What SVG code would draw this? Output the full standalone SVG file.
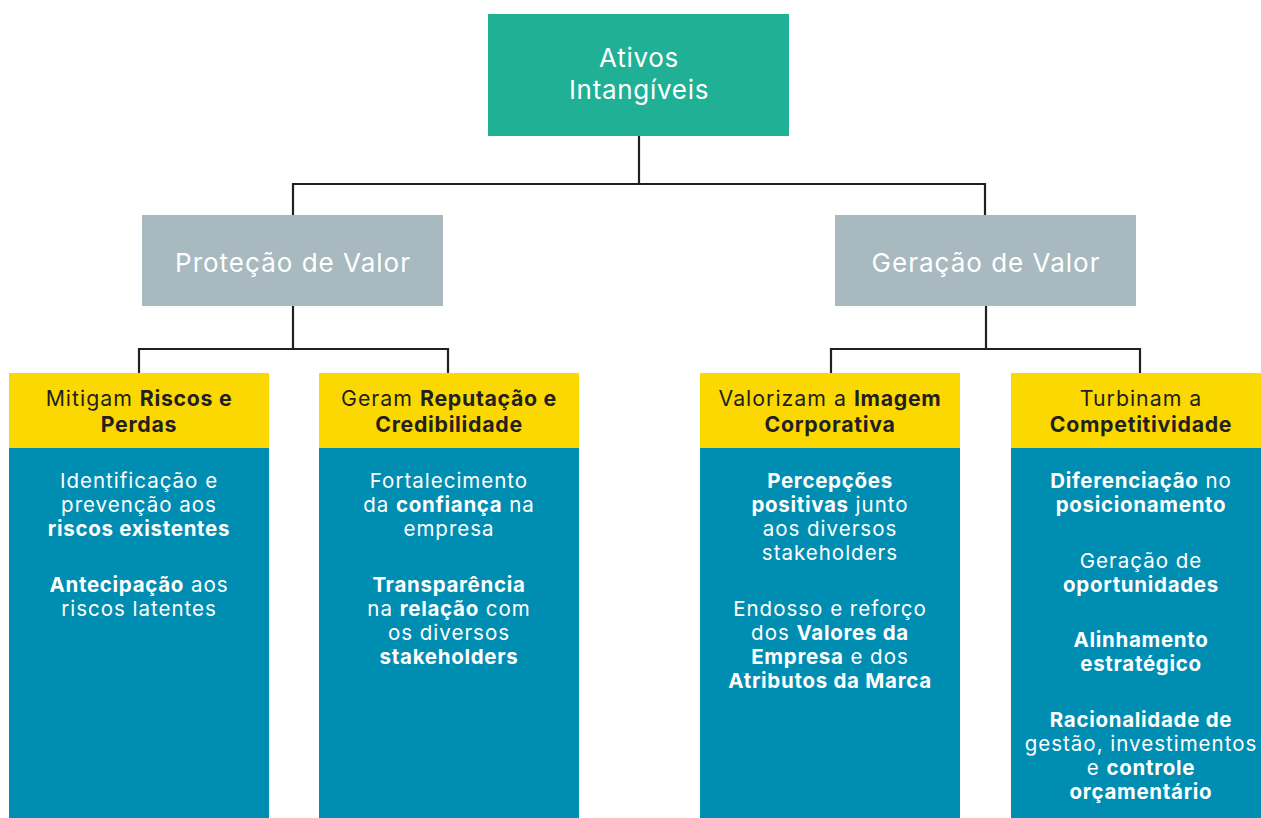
<svg xmlns="http://www.w3.org/2000/svg" width="1261" height="818" viewBox="0 0 1261 818">
<style>
text{font-family:Inter,"Noto Sans","DejaVu Sans",sans-serif;text-anchor:middle}
.root{fill:#20b096}
.mid{fill:#a8b9c0}
.head{fill:#fbd900}
.body{fill:#008db2}
.tw{fill:#ffffff}
.t1{font-size:26px;letter-spacing:0.7px}
.t2{font-size:26px;letter-spacing:1px}
.th{font-size:21.3px;fill:#231f20;letter-spacing:1px}
.tb{font-size:20.5px;fill:#ffffff;letter-spacing:1px}
.b{font-weight:700;letter-spacing:0.7px}
.conn{fill:none;stroke:#231f20;stroke-width:2.2}
</style>
<rect width="1261" height="818" fill="#ffffff"/>
<g id="connectors">
<path class="conn" d="M639,135V184M293,184H985M293,183V215M985,183V215"/>
<path class="conn" d="M293,305V349M139,349H448M139,348V373M448,348V373"/>
<path class="conn" d="M986,305V349M831,349H1140M831,348V373M1140,348V373"/>
</g>
<g id="ativos">
<rect class="root" x="488" y="14" width="301" height="122"/>
<text class="tw t1" x="639" y="67">Ativos</text>
<text class="tw t1" x="639" y="99">Intangíveis</text>
</g>
<g id="protecao">
<rect class="mid" x="142" y="215" width="301" height="91"/>
<text class="tw t2" x="293" y="272">Proteção de Valor</text>
</g>
<g id="geracao">
<rect class="mid" x="835" y="215" width="301" height="91"/>
<text class="tw t2" x="986" y="272">Geração de Valor</text>
</g>
<g id="mitigam">
<rect class="head" x="9" y="373" width="260" height="75"/>
<rect class="body" x="9" y="448" width="260" height="370"/>
<text class="th" x="139" y="406">Mitigam <tspan class="b">Riscos e</tspan></text>
<text class="th b" x="139" y="432">Perdas</text>
<text class="tb" x="139" y="488">Identificação e</text>
<text class="tb" x="139" y="512">prevenção aos</text>
<text class="tb b" x="139" y="536">riscos existentes</text>
<text class="tb" x="139" y="592"><tspan class="b">Antecipação</tspan> aos</text>
<text class="tb" x="139" y="616">riscos latentes</text>
</g>
<g id="geram">
<rect class="head" x="319" y="373" width="260" height="75"/>
<rect class="body" x="319" y="448" width="260" height="370"/>
<text class="th" x="449" y="406">Geram <tspan class="b">Reputação e</tspan></text>
<text class="th b" x="449" y="432">Credibilidade</text>
<text class="tb" x="449" y="488">Fortalecimento</text>
<text class="tb" x="449" y="512">da <tspan class="b">confiança</tspan> na</text>
<text class="tb" x="449" y="536">empresa</text>
<text class="tb b" x="449" y="592">Transparência</text>
<text class="tb" x="449" y="616">na <tspan class="b">relação</tspan> com</text>
<text class="tb" x="449" y="640">os diversos</text>
<text class="tb b" x="449" y="664">stakeholders</text>
</g>
<g id="valorizam">
<rect class="head" x="700" y="373" width="260" height="75"/>
<rect class="body" x="700" y="448" width="260" height="370"/>
<text class="th" x="830" y="406">Valorizam a <tspan class="b">Imagem</tspan></text>
<text class="th b" x="830" y="432">Corporativa</text>
<text class="tb b" x="830" y="488">Percepções</text>
<text class="tb" x="830" y="512"><tspan class="b">positivas</tspan> junto</text>
<text class="tb" x="830" y="536">aos diversos</text>
<text class="tb" x="830" y="560">stakeholders</text>
<text class="tb" x="830" y="616">Endosso e reforço</text>
<text class="tb" x="830" y="640">dos <tspan class="b">Valores da</tspan></text>
<text class="tb" x="830" y="664"><tspan class="b">Empresa</tspan> e dos</text>
<text class="tb b" x="830" y="688">Atributos da Marca</text>
</g>
<g id="turbinam">
<rect class="head" x="1011" y="373" width="260" height="75"/>
<rect class="body" x="1011" y="448" width="260" height="370"/>
<text class="th" x="1141" y="406">Turbinam a</text>
<text class="th b" x="1141" y="432">Competitividade</text>
<text class="tb" x="1141" y="488"><tspan class="b">Diferenciação</tspan> no</text>
<text class="tb b" x="1141" y="512">posicionamento</text>
<text class="tb" x="1141" y="568">Geração de</text>
<text class="tb b" x="1141" y="592">oportunidades</text>
<text class="tb b" x="1141" y="647">Alinhamento</text>
<text class="tb b" x="1141" y="671">estratégico</text>
<text class="tb b" x="1141" y="727">Racionalidade de</text>
<text class="tb" x="1141" y="751">gestão, investimentos</text>
<text class="tb" x="1141" y="775">e <tspan class="b">controle</tspan></text>
<text class="tb b" x="1141" y="799">orçamentário</text>
</g>
</svg>
